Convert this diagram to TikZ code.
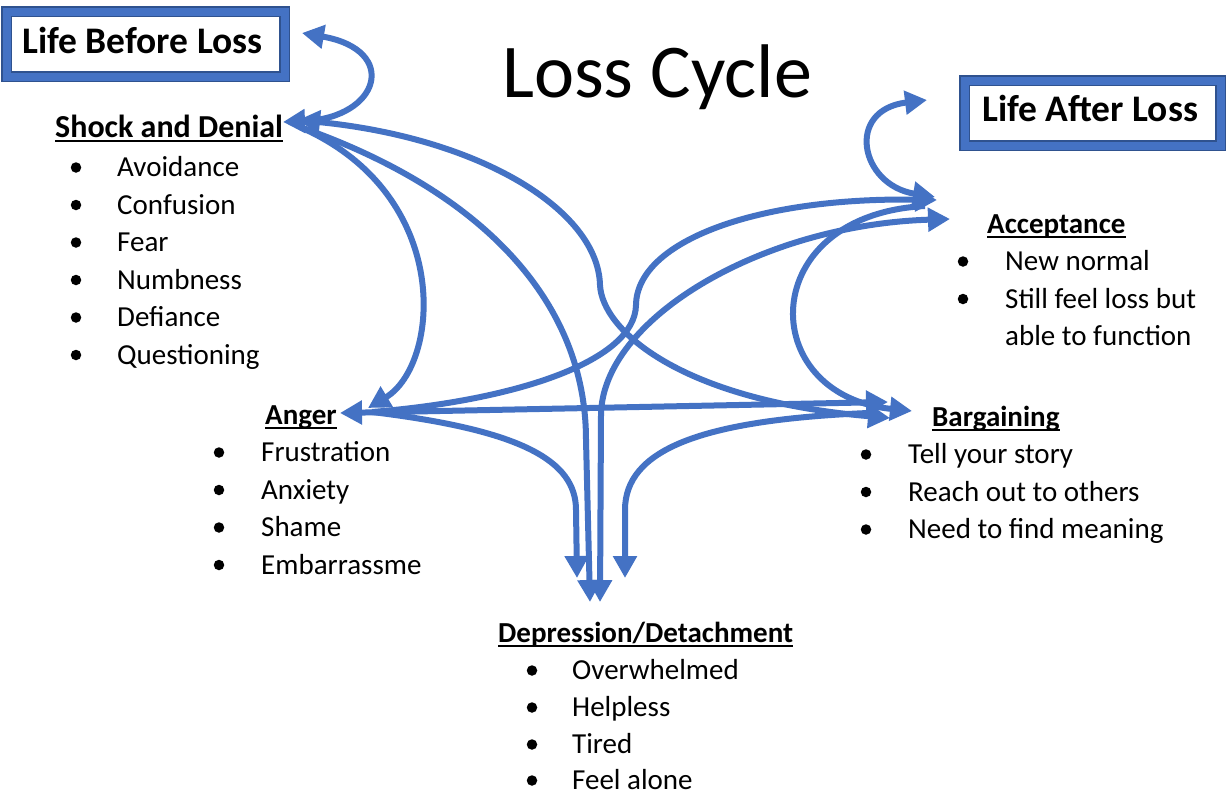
\documentclass[tikz,border=0pt]{standalone}
\usepackage{fontspec}
\setmainfont{Carlito}
\usetikzlibrary{arrows.meta}
\definecolor{ablue}{HTML}{4472C4}
\definecolor{dblue}{HTML}{2F528F}
\begin{document}
\begin{tikzpicture}[x=1pt,y=-1pt,
  conn/.style={draw=ablue, line width=6pt},
  tipend/.style={-{Triangle[length=22pt,width=23pt]}},
  tipboth/.style={{Triangle[length=22pt,width=23pt]}-{Triangle[length=22pt,width=23pt]}},
  boxline/.style={draw=dblue, line width=1.5pt, double=ablue, double distance=8pt},
  boxtext/.style={font=\bfseries\fontsize{37.5}{44}\selectfont, inner sep=0pt, anchor=base west},
  head/.style={font=\bfseries\fontsize{29}{35}\selectfont, inner sep=0pt, anchor=base west},
  item/.style={font=\fontsize{29}{35}\selectfont, inner sep=0pt, anchor=base west},
  bul/.style={circle, fill=black, inner sep=0pt, minimum size=10.5pt},
  uline/.style={line width=2pt}
]
\useasboundingbox (0,0) rectangle (1227,796);
\fill[white] (0,0) rectangle (1227,796);

% title
\node[font=\fontsize{76}{90}\selectfont, inner sep=0pt, anchor=base west] (title) at (502,97) {Loss Cycle};

% boxes
\draw[boxline] (6.5,11.5) rectangle (284.5,76.5);
\node[boxtext] (lbl) at (22,53) {Life Before Loss};
\draw[boxline] (964.5,80.5) rectangle (1220.5,145.5);
\node[boxtext] (lal) at (982,121) {Life After Loss};

% Shock and Denial
\node[head, font=\bfseries\fontsize{32}{38}\selectfont] (shock) at (55,137) {Shock and Denial};
\draw[uline] ([yshift=-3.5pt]shock.base west) -- ([yshift=-3.5pt]shock.base east);
\node[item] (s1) at (117,176.5) {Avoidance};
\node[item] (s2) at (117,214) {Confusion};
\node[item] (s3) at (117,251.5) {Fear};
\node[item] (s4) at (117,289) {Numbness};
\node[item] (s5) at (117,326.5) {Defiance};
\node[item] (s6) at (117,364) {Questioning};
\foreach \y [count=\i] in {176.5,214,251.5,289,326.5,364}
  \node[bul] (sb\i) at (76,\y-9) {};

% Anger
\node[head] (anger) at (265,424) {Anger};
\draw[uline] ([yshift=-3.5pt]anger.base west) -- ([yshift=-3.5pt]anger.base east);
\node[item] (a1) at (261,461.5) {Frustration};
\node[item] (a2) at (261,499) {Anxiety};
\node[item] (a3) at (261,536.5) {Shame};
\node[item] (a4) at (261,574) {Embarrassme};
\foreach \y [count=\i] in {461.5,499,536.5,574}
  \node[bul] (ab\i) at (219,\y-9) {};

% Depression/Detachment
\node[head] (depr) at (498,642) {Depression/Detachment};
\draw[uline] ([yshift=-3.5pt]depr.base west) -- ([yshift=-3.5pt]depr.base east);
\node[item] (d1) at (572,679.5) {Overwhelmed};
\node[item] (d2) at (572,716.5) {Helpless};
\node[item] (d3) at (572,753.5) {Tired};
\node[item] (d4) at (572,789.5) {Feel alone};
\foreach \y [count=\i] in {679.5,716.5,753.5,789.5}
  \node[bul] (db\i) at (532,\y-9) {};

% Bargaining
\node[head] (barg) at (932,426) {Bargaining};
\draw[uline] ([yshift=-3.5pt]barg.base west) -- ([yshift=-3.5pt]barg.base east);
\node[item] (b1) at (908,463.5) {Tell your story};
\node[item] (b2) at (908,501) {Reach out to others};
\node[item] (b3) at (908,538.5) {Need to find meaning};
\foreach \y [count=\i] in {463.5,501,538.5}
  \node[bul] (bb\i) at (866,\y-9) {};

% Acceptance
\node[head] (acc) at (987,233) {Acceptance};
\draw[uline] ([yshift=-3.5pt]acc.base west) -- ([yshift=-3.5pt]acc.base east);
\node[item] (c1) at (1005,270.5) {New normal};
\node[item] (c2) at (1005,308) {Still feel loss but};
\node[item] (c3) at (1005,345.5) {able to function};
\foreach \y [count=\i] in {270.5,308}
  \node[bul] (cb\i) at (963,\y-9) {};

% connector end points
\coordinate (lblT) at (302,33);
\coordinate (shA) at (283,122);
\coordinate (shB) at (298,120);
\coordinate (shO) at (300,127);
\coordinate (angA) at (340,413);
\coordinate (angB) at (368,408);
\coordinate (angO) at (372,412);
\coordinate (depA) at (577,578);
\coordinate (depB) at (590,602);
\coordinate (depC) at (600,602);
\coordinate (depD) at (625,578);
\coordinate (bgA) at (888,402);
\coordinate (bgB) at (912,411);
\coordinate (bgC) at (890,418);
\coordinate (bgO) at (868,413);
\coordinate (acA) at (935,197);
\coordinate (acB) at (937,200);
\coordinate (acC) at (950,219);
\coordinate (acO) at (925,206);
\coordinate (lalT) at (927,100);

% connectors
\draw[conn, tipboth] (shA) .. controls (380,118) and (400,50) .. (lblT);
\draw[conn, tipend] (shO) .. controls (455,195) and (440,365) .. (angB);
\draw[conn, tipend] (shO) .. controls (480,190) and (586,300) .. (586,440) -- (depB);
\draw[conn, tipboth] (shB) .. controls (480,138) and (598,210) .. (600,285) .. controls (602,330) and (680,400) .. (bgC);
\draw[conn, tipend] (angO) .. controls (520,430) and (576,460) .. (576,510) -- (depA);
\draw[conn, tipboth] (angA) -- (bgA);
\draw[conn, tipend] (angO) .. controls (520,400) and (635,360) .. (636,305) .. controls (637,240) and (760,197) .. (acB);
\draw[conn, tipboth] (depC) -- (601,415) .. controls (602,320) and (760,225) .. (acC);
\draw[conn, tipend] (bgO) .. controls (700,420) and (625,450) .. (625,510) -- (depD);
\draw[conn, tipend] (acO) .. controls (755,215) and (755,395) .. (bgB);
\draw[conn, tipboth] (acA) .. controls (860,185) and (845,110) .. (lalT);
\end{tikzpicture}
\end{document}
